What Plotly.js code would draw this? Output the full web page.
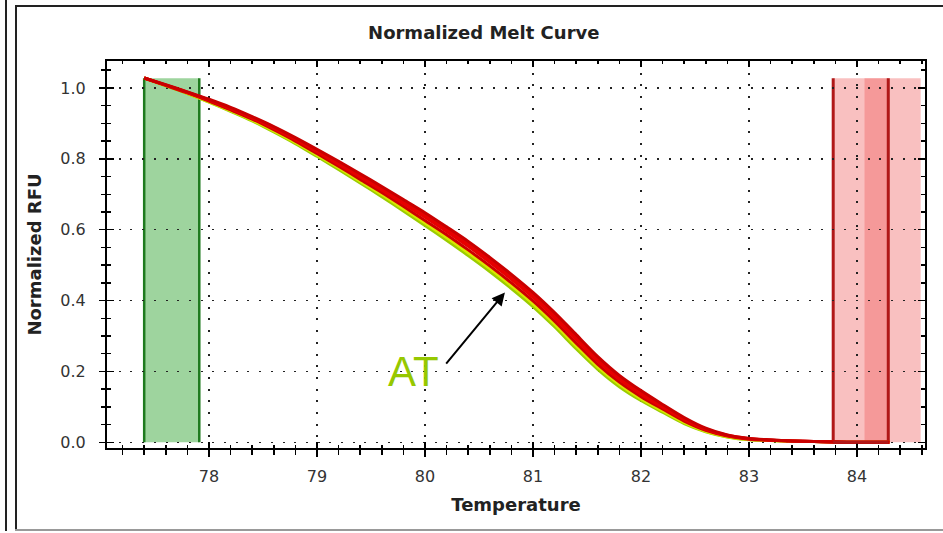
<!DOCTYPE html>
<html>
<head>
<meta charset="utf-8">
<script src="https://cdn.plot.ly/plotly-3.0.1.min.js"></script>
<style>
  html, body { margin: 0; padding: 0; background: #fff; }
  #wrap { position: relative; width: 943px; height: 533px; }
  #chart { position: absolute; left: 0; top: 0; width: 943px; height: 533px; }
  .fr { position: absolute; pointer-events: none; }
</style>
</head>
<body>
<div id="wrap">
  <div id="chart"></div>
  <div class="fr" style="left:5px;top:0;width:2px;height:531px;background:#222;"></div>
  <div class="fr" style="left:15px;top:5px;width:2px;height:526px;background:#222;"></div>
  <div class="fr" style="left:15px;top:5px;width:928px;height:2px;background:#222;"></div>
  <div class="fr" style="left:15px;top:529px;width:928px;height:2px;background:#999;"></div>
</div>
<script>
// Temperatures (deg C)
const temperature = [77.4, 77.6, 77.8, 78.0, 78.2, 78.4, 78.6, 78.8, 79.0, 79.2, 79.4, 79.6, 79.8, 80.0, 80.2, 80.4, 80.6, 80.8, 81.0, 81.2, 81.4, 81.6, 81.8, 82.0, 82.2, 82.4, 82.6, 82.8, 83.0, 83.2, 83.4, 83.6, 83.8, 84.0, 84.3];

// Normalized RFU curves
const greenCurve  = [1.028, 1.006, 0.984, 0.960, 0.934, 0.907, 0.876, 0.843, 0.807, 0.770, 0.732, 0.693, 0.653, 0.612, 0.570, 0.527, 0.482, 0.434, 0.383, 0.326, 0.264, 0.206, 0.157, 0.118, 0.085, 0.053, 0.030, 0.015, 0.007, 0.005, 0.003, 0.002, 0.001, 0.000, 0.000];
const yellowCurve = [1.028, 1.007, 0.985, 0.961, 0.936, 0.909, 0.879, 0.846, 0.811, 0.775, 0.737, 0.699, 0.659, 0.619, 0.578, 0.535, 0.490, 0.442, 0.391, 0.334, 0.272, 0.213, 0.164, 0.123, 0.089, 0.056, 0.031, 0.016, 0.008, 0.005, 0.003, 0.002, 0.001, 0.000, 0.000];
const redCurveA   = [1.028, 1.008, 0.987, 0.965, 0.941, 0.915, 0.886, 0.854, 0.820, 0.785, 0.749, 0.712, 0.674, 0.635, 0.595, 0.553, 0.508, 0.460, 0.409, 0.352, 0.290, 0.229, 0.178, 0.136, 0.099, 0.064, 0.036, 0.019, 0.010, 0.006, 0.004, 0.002, 0.001, 0.000, 0.000];
const redCurveB   = [1.028, 1.009, 0.989, 0.968, 0.945, 0.919, 0.891, 0.860, 0.827, 0.793, 0.758, 0.722, 0.685, 0.648, 0.608, 0.567, 0.522, 0.474, 0.423, 0.366, 0.304, 0.242, 0.189, 0.146, 0.107, 0.070, 0.040, 0.021, 0.011, 0.007, 0.004, 0.002, 0.001, 0.000, 0.000];
const redCurveC   = [1.028, 1.007, 0.986, 0.963, 0.938, 0.912, 0.882, 0.850, 0.815, 0.779, 0.742, 0.705, 0.666, 0.626, 0.586, 0.543, 0.498, 0.450, 0.399, 0.342, 0.280, 0.220, 0.170, 0.129, 0.094, 0.060, 0.034, 0.018, 0.009, 0.006, 0.004, 0.002, 0.001, 0.000, 0.000];
const redCurveD   = [1.028, 1.008, 0.988, 0.966, 0.943, 0.917, 0.889, 0.857, 0.824, 0.789, 0.754, 0.717, 0.680, 0.641, 0.602, 0.560, 0.515, 0.467, 0.416, 0.359, 0.297, 0.235, 0.184, 0.141, 0.103, 0.067, 0.038, 0.020, 0.011, 0.006, 0.004, 0.002, 0.001, 0.000, 0.000];

// Regions (begin/end temperatures) and heights
const beginRegion = [77.4, 77.91];
const endRegionA = [83.78, 84.29];
const endRegionB = [84.07, 84.59];
const regionTop = 1.027;

// Tick labels
const xTicks = [78, 79, 80, 81, 82, 83, 84];
const yTicks = [0.0, 0.2, 0.4, 0.6, 0.8, 1.0];

// Annotation
const annoLabel = 'AT';
const annoTip = [80.74, 0.423];
const annoTail = [80.185, 0.218];
const annoText = [79.89, 0.2];

const xRange = [77.0556, 84.63];
const yRange = [-0.016, 1.076];

function curve(y, color, width) {
  return { x: temperature, y: y, type: 'scatter', mode: 'lines',
    line: { color: color, width: width, shape: 'spline', smoothing: 0.8 },
    hoverinfo: 'skip', showlegend: false };
}

const traces = [
  curve(greenCurve, '#9acd00', 3),
  curve(yellowCurve, '#d8e800', 3),
  curve(redCurveC, '#cc0000', 3),
  curve(redCurveA, '#e60000', 3),
  curve(redCurveD, '#e60000', 3),
  curve(redCurveB, '#c80000', 3),
  { x: [], y: [], xaxis: 'x2', yaxis: 'y2', type: 'scatter', mode: 'lines', showlegend: false, hoverinfo: 'skip' }
];

const gridDash = '2px,9.7px';
const tickFont = { family: 'DejaVu Sans', size: 16, color: '#333' };
const titleFont = { family: 'DejaVu Sans', size: 18, color: '#222' };

const layout = {
  width: 943, height: 533,
  margin: { l: 107, r: 18, t: 61, b: 85 },
  paper_bgcolor: '#fff', plot_bgcolor: '#fff',
  showlegend: false,
  title: { text: '<b>Normalized Melt Curve</b>', font: titleFont,
    x: 0.513, xanchor: 'center', y: 1 - 33 / 533, yanchor: 'middle', yref: 'container' },
  xaxis: {
    range: xRange, tickvals: xTicks, ticktext: xTicks.map(String),
    ticks: 'outside', ticklen: 7, tickwidth: 1.5, tickcolor: '#000',
    minor: { dtick: 0.2, tick0: 0, ticks: 'outside', ticklen: 5, tickwidth: 1.5, tickcolor: '#000', showgrid: false },
    showline: true, linecolor: '#000', linewidth: 2, mirror: true,
    showgrid: true, gridcolor: '#222', gridwidth: 1.6, griddash: gridDash,
    zeroline: false, tickfont: tickFont, ticklabelstandoff: 6,
    title: { text: '<b>Temperature</b>', font: titleFont, standoff: 13 }
  },
  yaxis: {
    range: yRange, tickvals: yTicks, ticktext: yTicks.map(v => v.toFixed(1)),
    ticks: 'outside', ticklen: 6, tickwidth: 1.5, tickcolor: '#000',
    minor: { dtick: 0.05, tick0: 0, ticks: 'outside', ticklen: 4, tickwidth: 1.5, tickcolor: '#000', showgrid: false },
    showline: true, linecolor: '#000', linewidth: 2, mirror: true,
    showgrid: true, gridcolor: '#222', gridwidth: 1.6, griddash: gridDash,
    zeroline: false, tickfont: tickFont, ticklabelstandoff: 10,
    title: { text: '<b>Normalized RFU</b>', font: titleFont, standoff: 14 }
  },
  xaxis2: {
    overlaying: 'x', anchor: 'y2', side: 'bottom', range: xRange, dtick: 1, tick0: 0,
    ticks: 'inside', ticklen: 6, tickwidth: 1.5, tickcolor: '#000', mirror: 'ticks',
    minor: { dtick: 0.2, tick0: 0, ticks: 'inside', ticklen: 3, tickwidth: 1.5, tickcolor: '#000' },
    showticklabels: false, showgrid: false, showline: false, zeroline: false
  },
  yaxis2: {
    overlaying: 'y', anchor: 'x2', side: 'left', range: yRange, dtick: 0.2, tick0: 0,
    ticks: 'inside', ticklen: 7, tickwidth: 1.5, tickcolor: '#000', mirror: 'ticks',
    minor: { dtick: 0.05, tick0: 0, ticks: 'inside', ticklen: 4, tickwidth: 1.5, tickcolor: '#000' },
    showticklabels: false, showgrid: false, showline: false, zeroline: false
  },
  shapes: [
    { type: 'rect', layer: 'below', xref: 'x', yref: 'y', x0: beginRegion[0], x1: beginRegion[1], y0: 0, y1: regionTop,
      fillcolor: 'rgba(40,160,40,0.45)', line: { width: 0 } },
    { type: 'line', layer: 'below', xref: 'x', yref: 'y', x0: beginRegion[0], x1: beginRegion[0], y0: 0, y1: regionTop,
      line: { color: '#1e7a1e', width: 2.5 } },
    { type: 'line', layer: 'below', xref: 'x', yref: 'y', x0: beginRegion[1], x1: beginRegion[1], y0: 0, y1: regionTop,
      line: { color: '#1e7a1e', width: 2.5 } },
    { type: 'rect', layer: 'below', xref: 'x', yref: 'y', x0: endRegionA[0], x1: endRegionA[1], y0: 0, y1: regionTop,
      fillcolor: 'rgba(240,90,90,0.38)', line: { width: 0 } },
    { type: 'rect', layer: 'below', xref: 'x', yref: 'y', x0: endRegionB[0], x1: endRegionB[1], y0: 0, y1: regionTop,
      fillcolor: 'rgba(240,90,90,0.38)', line: { width: 0 } },
    { type: 'line', layer: 'below', xref: 'x', yref: 'y', x0: endRegionA[0], x1: endRegionA[0], y0: 0, y1: regionTop,
      line: { color: '#b01818', width: 3 } },
    { type: 'line', layer: 'below', xref: 'x', yref: 'y', x0: endRegionA[1], x1: endRegionA[1], y0: 0, y1: regionTop,
      line: { color: '#b01818', width: 3 } },
    { type: 'line', layer: 'above', xref: 'x', yref: 'y', x0: endRegionA[0], x1: endRegionA[1], y0: 0, y1: 0,
      line: { color: '#b01818', width: 3 } }
  ],
  annotations: [
    { x: annoTip[0], y: annoTip[1], ax: annoTail[0], ay: annoTail[1], axref: 'x', ayref: 'y', xref: 'x', yref: 'y',
      text: '', showarrow: true, arrowhead: 2, arrowsize: 1.3, arrowwidth: 2, arrowcolor: '#000', standoff: 0, startstandoff: 0 },
    { x: annoText[0], y: annoText[1], xref: 'x', yref: 'y', text: annoLabel, showarrow: false,
      font: { family: 'Liberation Sans', size: 42, color: '#96c800' } }
  ]
};

Plotly.newPlot('chart', traces, layout, { displayModeBar: false, staticPlot: true });
</script>
</body>
</html>
